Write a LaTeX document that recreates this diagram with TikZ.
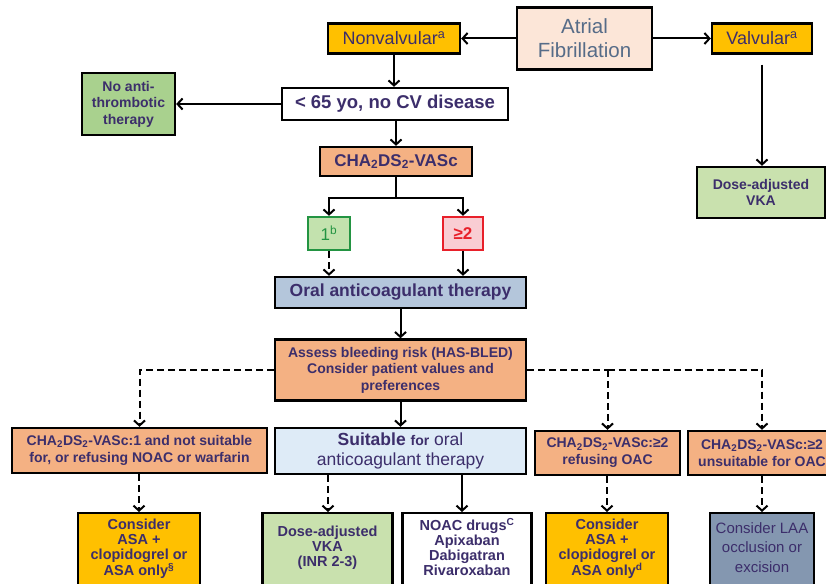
\documentclass[tikz,border=0pt]{standalone}
\usepackage{fontspec}
\setmainfont{Liberation Sans}
\usetikzlibrary{arrows.meta,calc}
\definecolor{txt}{HTML}{3C2E6B}
\definecolor{aftxt}{HTML}{566C88}
\definecolor{gold}{HTML}{FFC000}
\definecolor{peach}{HTML}{F4B183}
\definecolor{afpeach}{HTML}{FCE6D8}
\definecolor{midgreen}{HTML}{A9D18E}
\definecolor{lightgreen}{HTML}{C9E1AE}
\definecolor{oatblue}{HTML}{B4C6DB}
\definecolor{paleblue}{HTML}{DEEBF7}
\definecolor{steel}{HTML}{8497B0}
\definecolor{onegreen}{HTML}{239442}
\definecolor{onefill}{HTML}{C3E2AE}
\definecolor{twored}{HTML}{E8202A}
\definecolor{twofill}{HTML}{F9CDD3}
\tikzset{
  box/.style={draw=black, line width=2.4pt, align=center, inner sep=1pt, text=txt,
    font=\bfseries\fontsize{14}{16.5}\selectfont},
  arr/.style={line width=2pt, -{Straight Barb[length=5pt,width=11pt]}},
  darr/.style={arr, dash pattern=on 7pt off 4pt},
  dline/.style={line width=2pt, dash pattern=on 7pt off 4pt},
}
\begin{document}
\begin{tikzpicture}[x=1pt,y=-1pt]
\useasboundingbox (0,0) rectangle (826,583);
% top row
\node[box, fill=afpeach, text=aftxt, font=\fontsize{20.5}{24}\selectfont, minimum width=135, minimum height=62] (af) at (584.5,38.5) {Atrial\\Fibrillation};
\node[box, fill=gold, font=\fontsize{18}{20}\selectfont, minimum width=132, minimum height=30] (nonv) at (394,38.5) {Nonvalvular\textsuperscript{a}};
\node[box, fill=gold, font=\fontsize{18}{20}\selectfont, minimum width=100, minimum height=30] (valv) at (762,38.5) {Valvular\textsuperscript{a}};
\node[box, fill=white, font=\bfseries\fontsize{18.5}{20}\selectfont, minimum width=226, minimum height=32] (lt65) at (395,104) {< 65 yo, no CV disease};
\node[box, fill=midgreen, minimum width=93, minimum height=62] (noanti) at (128.5,104) {No anti-\\thrombotic\\therapy};
\node[box, fill=lightgreen, font=\bfseries\fontsize{14}{15.5}\selectfont, minimum width=128, minimum height=51] (dosev) at (761,192.5) {Dose-adjusted\\VKA};
\node[box, fill=peach, font=\bfseries\fontsize{17}{19}\selectfont, minimum width=152, minimum height=29] (cha) at (396,161.5) {CHA\textsubscript{2}DS\textsubscript{2}-VASc};
\node[box, draw=onegreen, fill=onefill, text=onegreen, font=\fontsize{17}{19}\selectfont, minimum width=42, minimum height=33] (one) at (329,233.5) {1\textsuperscript{b}};
\node[box, draw=twored, fill=twofill, text=twored, font=\bfseries\fontsize{17}{19}\selectfont, minimum width=40, minimum height=33] (ge2) at (463,233.5) {≥2};
\node[box, fill=oatblue, font=\bfseries\fontsize{17.5}{19}\selectfont, minimum width=251, minimum height=31] (oat) at (400.5,292.5) {Oral anticoagulant therapy};
\node[box, fill=peach, minimum width=251, minimum height=61] (assess) at (400.5,370) {Assess bleeding risk (HAS-BLED)\\Consider patient values and\\preferences};
% second level
\node[box, fill=peach, font=\bfseries\fontsize{14}{17}\selectfont, minimum width=255, minimum height=45] (cha1) at (139.5,450.5) {CHA\textsubscript{2}DS\textsubscript{2}-VASc:1 and not suitable\\for, or refusing NOAC or warfarin};
\node[box, fill=paleblue, font=\fontsize{17.5}{19.5}\selectfont, minimum width=251, minimum height=46] (suit) at (400.5,451) {{\bfseries Suitable {\fontsize{14}{16}\selectfont for}} oral\\anticoagulant therapy};
\node[box, fill=peach, font=\bfseries\fontsize{14}{17}\selectfont, minimum width=145, minimum height=44] (refuse) at (607.5,453) {CHA\textsubscript{2}DS\textsubscript{2}-VASc:≥2\\refusing OAC};
\node[box, fill=peach, font=\bfseries\fontsize{14}{17}\selectfont, minimum width=148, minimum height=44] (unsuit) at (762,453) {CHA\textsubscript{2}DS\textsubscript{2}-VASc:≥2\\unsuitable for OAC};
% bottom row
\node[box, fill=gold, minimum width=122, minimum height=80, anchor=north] (cons1) at (139,512) {};
\node[text=txt, font=\bfseries\fontsize{14.5}{15}\selectfont, align=center, anchor=north] (cons1t) at (139,515) {Consider\\ASA +\\clopidogrel or\\ASA only\textsuperscript{§}};
\node[box, fill=lightgreen, minimum width=130, minimum height=80, anchor=north] (vka2) at (327.5,512) {};
\node[text=txt, font=\bfseries\fontsize{14.5}{15}\selectfont, align=center, anchor=north] (vka2t) at (327.5,522) {Dose-adjusted\\VKA\\(INR 2-3)};
\node[box, fill=white, minimum width=129, minimum height=80, anchor=north] (noac) at (467,512) {};
\node[text=txt, font=\bfseries\fontsize{14.5}{15}\selectfont, align=center, anchor=north] (noact) at (467,515) {NOAC drugs\textsuperscript{C}\\Apixaban\\Dabigatran\\Rivaroxaban};
\node[box, fill=gold, minimum width=122, minimum height=80, anchor=north] (cons2) at (607,512) {};
\node[text=txt, font=\bfseries\fontsize{14.5}{15}\selectfont, align=center, anchor=north] (cons2t) at (607,515) {Consider\\ASA +\\clopidogrel or\\ASA only\textsuperscript{d}};
\node[box, fill=steel, minimum width=104, minimum height=80, anchor=north] (laa) at (762,512) {};
\node[text=txt, font=\fontsize{15}{19.5}\selectfont, align=center, anchor=north] (laat) at (762,519) {Consider LAA\\occlusion or\\excision};
% connectors
\draw[arr] (af.west) -- (nonv.east);
\draw[arr] (af.east) -- (valv.west);
\draw[arr] (nonv.south) -- (nonv.south |- lt65.north);
\draw[arr] (lt65.west) -- (noanti.east);
\draw[arr] ([yshift=-10pt]valv.south) -- (valv.south |- dosev.north);
\draw[arr] (lt65.south -| cha.north) -- (cha.north);
\coordinate (sp) at ([yshift=-21pt]cha.south);
\draw[arr] (cha.south) -- (sp) -| (one.north);
\draw[arr] (sp) -| (ge2.north);
\draw[darr] (one.south) -- (one.south |- oat.north);
\draw[arr] (ge2.south) -- (ge2.south |- oat.north);
\draw[arr] (oat.south) -- (assess.north);
\draw[arr] (assess.south) -- (suit.north);
\draw[darr] (assess.west) -| (cha1.north);
\coordinate (rj) at (refuse.north |- assess.east);
\draw[dline] (assess.east) -- (rj);
\draw[darr] (rj) -- (refuse.north);
\draw[darr] (rj) -| (unsuit.north);
\draw[darr] (cha1.south -| cons1.north) -- (cons1.north);
\coordinate (s1) at (328,0);
\coordinate (s2) at (462,0);
\draw[darr] (suit.south -| s1) -- (vka2.north -| s1);
\draw[arr] (suit.south -| s2) -- (noac.north -| s2);
\draw[darr] (refuse.south -| cons2.north) -- (cons2.north);
\draw[darr] (unsuit.south) -- (laa.north);
\end{tikzpicture}
\end{document}
